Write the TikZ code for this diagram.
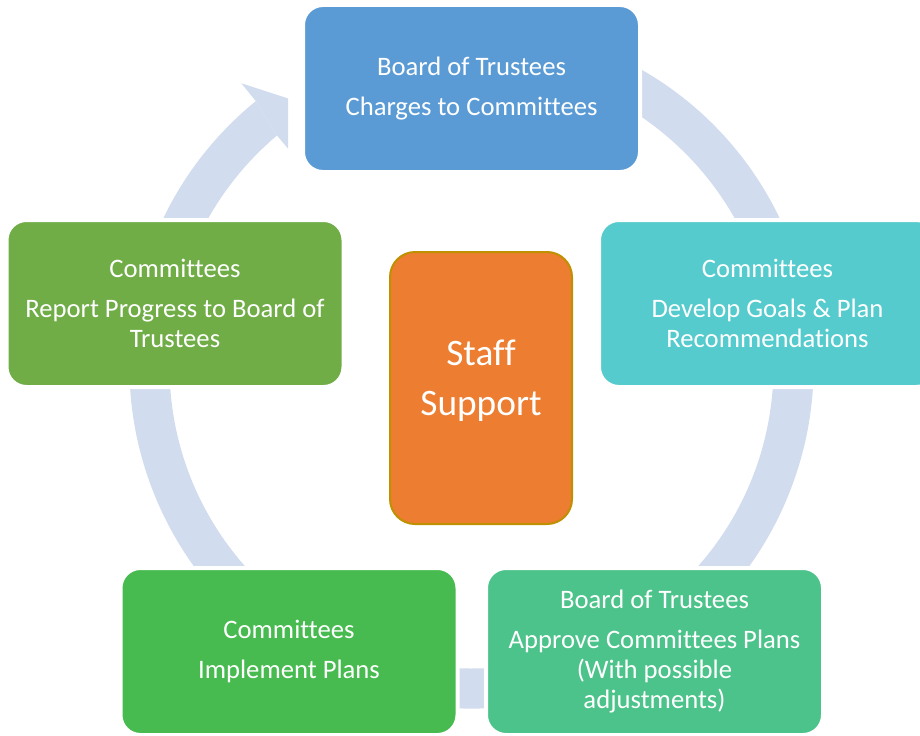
\documentclass[tikz,border=0pt]{standalone}
\usepackage{fontspec}
\setmainfont{Carlito}[Ligatures=NoCommon]

\definecolor{trusteeblue}{HTML}{5B9BD5}
\definecolor{goalteal}{HTML}{55CBCD}
\definecolor{approvegreen}{HTML}{4CC38A}
\definecolor{implementgreen}{HTML}{47BB50}
\definecolor{reportgreen}{HTML}{70AD47}
\definecolor{stafforange}{HTML}{ED7D31}
\definecolor{staffgold}{HTML}{BF9000}
\definecolor{ringblue}{HTML}{D1DCEE}

\tikzset{every picture/.style={line width=0.75pt}}
\tikzset{
  ringfill/.style={fill=ringblue, draw=none},
  stage/.style={draw=white, line width=3pt, rounded corners=15pt,
    minimum width=252.75pt, minimum height=125.25pt, inner sep=0pt,
    text=white, align=center, font=\fontsize{20}{22.5}\selectfont},
  hub/.style={draw=staffgold, line width=1.5pt, fill=stafforange, rounded corners=18.75pt,
    minimum width=136.5pt, minimum height=204pt, inner sep=0pt, text depth=15pt,
    text=white, align=center, font=\fontsize{28}{37.5}\selectfont},
}

\begin{document}
\begin{tikzpicture}[x=0.75pt,y=0.75pt,yscale=-1,xscale=1]
\useasboundingbox (0,0) rectangle (920,735);

%Shape: Ring [id:cycle]
\begin{scope}[shift={(471.5,366.5)}]
\fill [ringfill] (-70:342) arc [start angle=-70, end angle=230.9, radius=342]
  -- (229.9:302) arc [start angle=229.9, end angle=-70, radius=302] -- cycle ;
\end{scope}
%Shape: Arrow head [id:cyclehead]
\begin{scope}
\clip (0,0) rectangle (288,735);
\begin{scope}[shift={(471.5,366.5)}]
\fill [ringfill] (230.9:342) -- (230.9:365) -- (236:322) -- (229.9:275) -- (229.9:302) -- cycle ;
\end{scope}
\end{scope}

% Stage Nodes
\node [stage, fill=trusteeblue] (trustees) at (471.5,88.5) {Board of Trustees\\[8pt]Charges to Committees};
\node [stage, fill=goalteal] (goals) at (767.5,303.5) {Committees\\[8pt]Develop Goals \& Plan\\Recommendations};
\node [stage, fill=approvegreen] (approve) at (654.5,651.5) {Board of Trustees\\[8pt]Approve Committees Plans\\(With possible\\adjustments)};
\node [stage, fill=implementgreen] (implement) at (289,651.5) {Committees\\[8pt]Implement Plans};
\node [stage, fill=reportgreen] (report) at (175,303.5) {Committees\\[8pt]Report Progress to Board of\\Trustees};

% Centre Node
\node [hub] (staff) at (481,388) {Staff\\Support};

\end{tikzpicture}
\end{document}
